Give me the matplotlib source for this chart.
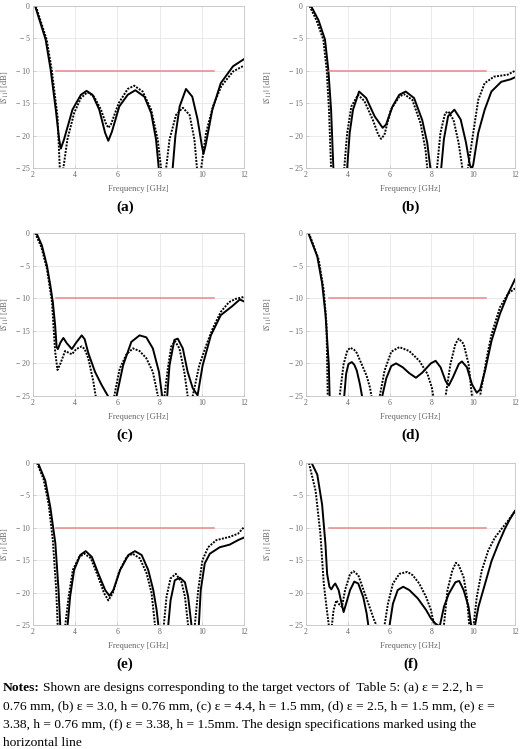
import matplotlib
matplotlib.use("Agg")
import matplotlib.pyplot as plt

plt.rcParams['font.family'] = ['Liberation Serif', 'DejaVu Serif']
plt.rcParams['mathtext.fontset'] = 'stix'

# ---- data (frequency in GHz, |S11| in dB) ----
# (a)
a_solid_ghz = [2.1, 2.36, 2.6, 2.84, 3.08, 3.24, 3.32, 3.47, 3.87, 4.27, 4.54, 4.82, 5.14, 5.42, 5.57,
               5.74, 6.09, 6.49, 6.85, 7.28, 7.6, 7.83, 7.96, 8.3, 8.62, 8.75, 8.95, 9.25, 9.55, 9.8,
               10.0, 10.08, 10.18, 10.5, 10.9, 11.48, 12]
a_solid_db = [0, -2.7, -5.2, -9.9, -16, -20.6, -22, -20.6, -16, -13.7, -13.1, -13.7, -16, -19.6, -20.8,
              -19.4, -15.5, -13.7, -13.0, -14, -16.5, -20.6, -25, -32, -25, -20, -15.5, -12.8, -14,
              -17.5, -21.5, -22.8, -21.5, -16, -11.9, -9.3, -8.2]
a_dot_ghz = [2.13, 2.4, 2.65, 2.89, 3.16, 3.27, 3.35, 3.44, 3.63, 3.95, 4.27, 4.58, 4.9, 5.22, 5.45,
             5.57, 5.69, 6.06, 6.49, 6.8, 7.2, 7.6, 7.91, 8.07, 8.2, 8.31, 8.47, 8.78, 9.1, 9.42, 9.65,
             9.77, 9.87, 9.97, 10.2, 10.53, 10.92, 11.48, 12]
a_dot_db = [0, -2.7, -5.2, -9.9, -17, -25, -30, -25, -20.6, -16.5, -14.2, -13.3, -14, -16, -18.1,
            -18.8, -18.3, -15, -12.8, -12.3, -13.2, -16, -20.6, -25, -32, -25, -20.6, -16.8, -15.7,
            -16.8, -20.6, -25, -32, -25, -19.6, -15.5, -12.4, -10.1, -9.2]

# (b)
b_solid_ghz = [2.24, 2.6, 2.91, 3.07, 3.2, 3.31, 3.6, 3.97, 4.09, 4.25, 4.54, 4.88, 5.28, 5.67, 5.83,
               6.14, 6.46, 6.77, 7.17, 7.56, 7.8, 7.95, 8.2, 8.47, 8.6, 8.8, 9.1, 9.4, 9.65, 9.84,
               9.92, 10.0, 10.24, 10.55, 10.87, 11.34, 11.8, 12]
b_solid_db = [0, -2.2, -5.2, -9.9, -16, -25, -35, -25, -19.6, -16, -13.2, -14.2, -17, -18.8, -18.3,
              -15.5, -13.7, -13.2, -14.2, -17.6, -21.1, -25, -32, -25, -20.5, -17, -16, -17.5, -21,
              -24.5, -25.2, -24.5, -19.6, -16, -13.2, -11.7, -11.3, -11.0]
b_dot_ghz = [2.17, 2.5, 2.83, 2.99, 3.1, 3.2, 3.5, 3.83, 3.97, 4.17, 4.49, 4.8, 5.2, 5.45, 5.59, 5.75,
             6.06, 6.46, 6.69, 7.09, 7.48, 7.72, 7.8, 8.05, 8.27, 8.43, 8.66, 8.82, 9.06, 9.3, 9.48,
             9.6, 9.75, 10.0, 10.24, 10.55, 11.0, 11.65, 12]
b_dot_db = [0, -2.2, -5.2, -9.9, -16, -25, -35, -25, -19.6, -15.5, -13.7, -14.7, -17.6, -19.8, -20.5,
            -19.9, -16, -14, -13.6, -14.5, -18.1, -22.2, -25, -32, -25, -19.6, -16.5, -16.3, -17.6,
            -21.1, -25, -30, -25, -19.6, -14.5, -11.9, -10.9, -10.6, -10]

# (c)
c_solid_ghz = [2.16, 2.42, 2.66, 2.82, 2.94, 3.05, 3.12, 3.18, 3.3, 3.44, 3.6, 3.84, 4.05, 4.31, 4.45,
               4.62, 4.94, 5.25, 5.48, 5.64, 5.8, 5.96, 6.27, 6.66, 7.05, 7.37, 7.68, 7.97, 8.12, 8.25,
               8.36, 8.47, 8.7, 8.86, 9.1, 9.33, 9.57, 9.8, 10.04, 10.43, 10.9, 11.45, 11.8, 12]
c_solid_db = [0, -1.9, -5, -8, -10.6, -14.2, -17.5, -17.8, -16.8, -16.1, -16.9, -17.8, -16.8, -15.7,
              -16.3, -18.4, -21.3, -23.3, -24.6, -25.5, -30, -25, -20.3, -16.7, -15.7, -16, -17.7,
              -21.3, -25, -30, -25, -20.3, -16.4, -16.2, -17.7, -21.3, -23.8, -24.9, -20.3, -15.7,
              -12.6, -11.2, -10.2, -10.5]
c_dot_ghz = [2.1, 2.4, 2.66, 2.9, 2.97, 3.05, 3.16, 3.29, 3.52, 3.84, 4.05, 4.31, 4.45, 4.62, 4.86,
             4.97, 5.4, 5.85, 6.11, 6.43, 6.74, 7.05, 7.37, 7.68, 7.92, 8.08, 8.23, 8.39, 8.55, 8.73,
             8.94, 9.17, 9.33, 9.45, 9.57, 9.88, 10.19, 10.51, 10.9, 11.29, 11.61, 12]
c_dot_db = [0, -2.2, -5.5, -10.6, -14.2, -18.2, -21, -20.1, -18.1, -18.6, -17.8, -17.4, -17.8, -19.2,
            -22.8, -25, -35, -25, -20.8, -18.6, -17.7, -18.1, -19.2, -21.3, -25, -30, -25, -20.8,
            -17.4, -16.6, -17.7, -21.3, -25, -30, -25, -20.3, -17.4, -14.7, -12.1, -10.6, -10.1, -9.8]

# (d)
d_solid_ghz = [2.11, 2.54, 2.77, 2.93, 3.09, 3.13, 3.5, 3.83, 3.92, 4.03, 4.19, 4.31, 4.43, 4.58, 4.68,
               5.1, 5.65, 5.84, 6.08, 6.31, 6.63, 6.94, 7.26, 7.57, 7.97, 8.2, 8.44, 8.68, 8.83, 9.02,
               9.31, 9.46, 9.7, 9.94, 10.17, 10.33, 10.57, 10.88, 11.28, 11.67, 12]
d_solid_db = [0, -3.6, -7.7, -12.4, -20.1, -25, -35, -25, -21.6, -20.1, -19.8, -20.2, -21.1, -23.2,
              -25, -32, -25, -22.3, -20.4, -20, -20.6, -21.5, -22.2, -21.4, -20.0, -19.6, -20.6,
              -22.7, -23.4, -22.2, -20.1, -19.7, -20.6, -23.2, -24.5, -24, -21.1, -16.5, -12.4,
              -9.3, -7.1]
d_dot_ghz = [2.14, 2.61, 2.85, 2.98, 3.04, 3.3, 3.61, 3.8, 3.98, 4.12, 4.3, 4.43, 4.66, 4.9, 5.06,
             5.13, 5.33, 5.53, 5.76, 6.08, 6.47, 6.94, 7.42, 7.81, 8.02, 8.09, 8.4, 8.68, 8.91, 9.15,
             9.31, 9.54, 9.78, 9.94, 10.15, 10.33, 10.65, 10.88, 11.28, 11.67, 12]
d_dot_db = [0, -4.1, -8.8, -13.9, -25, -35, -25, -20.1, -18, -17.6, -17.9, -18.4, -20.1, -21.9, -23.7,
            -25, -32, -25, -21.1, -18.2, -17.5, -18.1, -19.6, -21.6, -23.7, -25, -32, -25, -20.1,
            -17, -16.2, -17, -20.1, -25, -30, -25, -19.1, -15.5, -11.4, -9.3, -8.5]

# (e)
e_solid_ghz = [2.24, 2.58, 2.82, 3.06, 3.21, 3.29, 3.45, 3.64, 3.76, 3.95, 4.24, 4.5, 4.79, 5.1, 5.42,
               5.62, 5.81, 6.13, 6.52, 6.83, 7.15, 7.46, 7.7, 7.86, 7.94, 8.15, 8.41, 8.52, 8.72, 8.96,
               9.2, 9.35, 9.51, 9.7, 9.86, 9.95, 10.14, 10.38, 10.85, 11.32, 11.72, 12]
e_solid_db = [0, -2.7, -6.8, -12.4, -19.6, -25, -32, -25, -20.6, -16.5, -14.2, -13.6, -14.5, -17.1,
              -19.6, -20.5, -19.6, -16.5, -14.2, -13.6, -14.2, -16.5, -19.6, -22.7, -25, -32, -25,
              -21.2, -18.1, -17.7, -18.4, -20.6, -25, -32, -25, -19.6, -15.5, -14, -13, -12.6, -11.9,
              -11.5]
e_dot_ghz = [2.19, 2.5, 2.74, 2.94, 3.1, 3.17, 3.35, 3.53, 3.69, 3.89, 4.19, 4.44, 4.74, 5.06, 5.37,
             5.57, 5.78, 6.08, 6.44, 6.72, 7.06, 7.38, 7.62, 7.78, 8.0, 8.2, 8.33, 8.52, 8.77, 9.04,
             9.2, 9.35, 9.5, 9.67, 9.83, 10.03, 10.3, 10.69, 11.32, 11.72, 12]
e_dot_db = [0, -2.5, -6.3, -11.9, -19.6, -25, -32, -25, -20.6, -16.5, -14.5, -14, -14.7, -17.3, -20.1,
            -21.2, -20.1, -16.8, -14.5, -14, -14.7, -17, -20.1, -25, -32, -25, -20.6, -17.8, -17.1,
            -18.4, -20.6, -25, -32, -25, -19.6, -15, -13, -11.9, -11.4, -10.9, -9.9]

# (f)
f_solid_ghz = [2.27, 2.54, 2.77, 2.93, 3.01, 3.12, 3.21, 3.32, 3.4, 3.56, 3.67, 3.8, 3.92, 4.11, 4.31,
               4.5, 4.74, 4.9, 4.98, 5.5, 6.0, 6.16, 6.39, 6.65, 6.94, 7.35, 7.75, 7.98, 8.2, 8.4, 8.6,
               8.83, 9.15, 9.33, 9.54, 9.78, 9.9, 10.0, 10.09, 10.25, 10.57, 10.88, 11.2, 11.51, 11.75,
               12]
f_solid_db = [0, -1.8, -6.4, -12.5, -17.1, -19.1, -19.5, -18.9, -18.6, -19.6, -21.2, -23, -21.7, -19.6,
              -18.3, -18.6, -20.7, -23.2, -25, -32, -25, -21.7, -19.6, -19.1, -19.6, -20.9, -22.7,
              -24, -24.8, -25.2, -22.2, -20.2, -18.4, -18.2, -19.6, -22.2, -25, -30, -25, -22.2,
              -18.6, -15.1, -12.5, -10.2, -8.7, -7.4]
f_dot_ghz = [2.14, 2.46, 2.69, 2.85, 2.98, 3.09, 3.16, 3.24, 3.32, 3.45, 3.61, 3.72, 3.87, 4.11, 4.27,
             4.5, 4.82, 5.06, 5.29, 5.37, 5.55, 5.76, 5.92, 6.16, 6.47, 6.85, 7.1, 7.42, 7.75, 7.98,
             8.13, 8.35, 8.6, 8.77, 9.0, 9.17, 9.31, 9.54, 9.7, 9.81, 9.92, 10.02, 10.17, 10.41,
             10.72, 11.04, 11.35, 11.67, 12]
f_dot_db = [0, -4.3, -11, -18.6, -22.2, -25, -28, -25, -22.7, -21.2, -21.9, -22.2, -19.6, -17.1, -16.7,
            -17.3, -20.2, -22.4, -24.5, -25, -30, -25, -21.7, -18.6, -17.1, -16.8, -17.3, -18.6,
            -20.7, -22.7, -25, -30, -25, -19.6, -16.6, -15.4, -15.8, -17.6, -20.7, -25, -30, -25,
            -20.7, -16.6, -13.5, -11.5, -10.2, -8.9, -7.4]

# design specification (red line)
spec_ghz = [3.1, 10.6]
spec_db = [-10, -10]

panel_tags = ['(a)', '(b)', '(c)', '(d)', '(e)', '(f)']
x_ticks = [2, 4, 6, 8, 10, 12]
y_ticks = [-25, -20, -15, -10, -5, 0]
y_tick_labels = ['\u2212 25', '\u2212 20', '\u2212 15', '\u2212 10', '\u2212 5', '0']

notes_lines = [
    'Shown are designs corresponding to the target vectors of  Table 5: (a) \u03b5 = 2.2, h =',
    '0.76 mm, (b) \u03b5 = 3.0, h = 0.76 mm, (c) \u03b5 = 4.4, h = 1.5 mm, (d) \u03b5 = 2.5, h = 1.5 mm, (e) \u03b5 =',
    '3.38, h = 0.76 mm, (f) \u03b5 = 3.38, h = 1.5mm. The design specifications marked using the',
    'horizontal line',
]

solids = [(a_solid_ghz, a_solid_db), (b_solid_ghz, b_solid_db), (c_solid_ghz, c_solid_db),
          (d_solid_ghz, d_solid_db), (e_solid_ghz, e_solid_db), (f_solid_ghz, f_solid_db)]
dots = [(a_dot_ghz, a_dot_db), (b_dot_ghz, b_dot_db), (c_dot_ghz, c_dot_db),
        (d_dot_ghz, d_dot_db), (e_dot_ghz, e_dot_db), (f_dot_ghz, f_dot_db)]

W, H = 520, 749
fig = plt.figure(figsize=(W / 100, H / 100), dpi=100)

cols = [(33, 244), (306, 515)]
rows = [(6, 168), (233, 396), (463, 625)]
tag_x = [125, 411]
ylab_right_px = [11, 274]   # right edge of the rotated y label

for i in range(6):
    r, c = divmod(i, 2)
    left, right = cols[c]
    top, bottom = rows[r]
    ax = fig.add_axes([left / W, 1 - bottom / H, (right - left) / W, (bottom - top) / H])

    ax.plot(*solids[i], color='black', lw=1.4)
    ax.plot(*dots[i], color='black', lw=1.4, linestyle=(0, (1, 0.7)))
    ax.plot(spec_ghz, spec_db, color='#e88888', lw=1.1)

    ax.set_xlim(2, 12)
    ax.set_ylim(-25, 0)
    ax.set_xticks(x_ticks)
    ax.set_yticks(y_ticks, y_tick_labels)
    ax.grid(color='#e6e6e6', lw=0.6)
    ax.set_axisbelow(True)
    for s in ax.spines.values():
        s.set_color('#c4c4c4')
        s.set_linewidth(0.6)
    ax.tick_params(direction='in', length=2, width=0.5, color='#c4c4c4',
                   labelsize=5.5, labelcolor='#666666', pad=2.5)
    ax.set_xlabel('Frequency [GHz]', fontsize=6.2, color='#666666', labelpad=4)
    ax.set_ylabel(r'$|S_{11}|$ [dB]', fontsize=6.2, color='#666666')
    ax.yaxis.set_label_coords((ylab_right_px[c] - left) / (right - left), 0.5)

    fig.text(tag_x[c] / W, 1 - (bottom + 39) / H, panel_tags[i], fontsize=11,
             fontweight='bold', ha='center', va='center')

# notes below the panels
note_size = 9.7
y0 = 688
step = 18.5
bold = fig.text(3 / W, 1 - y0 / H, 'Notes:', fontsize=note_size, fontweight='bold', va='center')
fig.canvas.draw()
bb = bold.get_window_extent()
fig.text((bb.x1 + 3) / W, 1 - y0 / H, notes_lines[0], fontsize=note_size, va='center')
for k, line in enumerate(notes_lines[1:], start=1):
    fig.text(3 / W, 1 - (y0 + step * k) / H, line, fontsize=note_size, va='center')

fig.savefig('out.png', dpi=100)
